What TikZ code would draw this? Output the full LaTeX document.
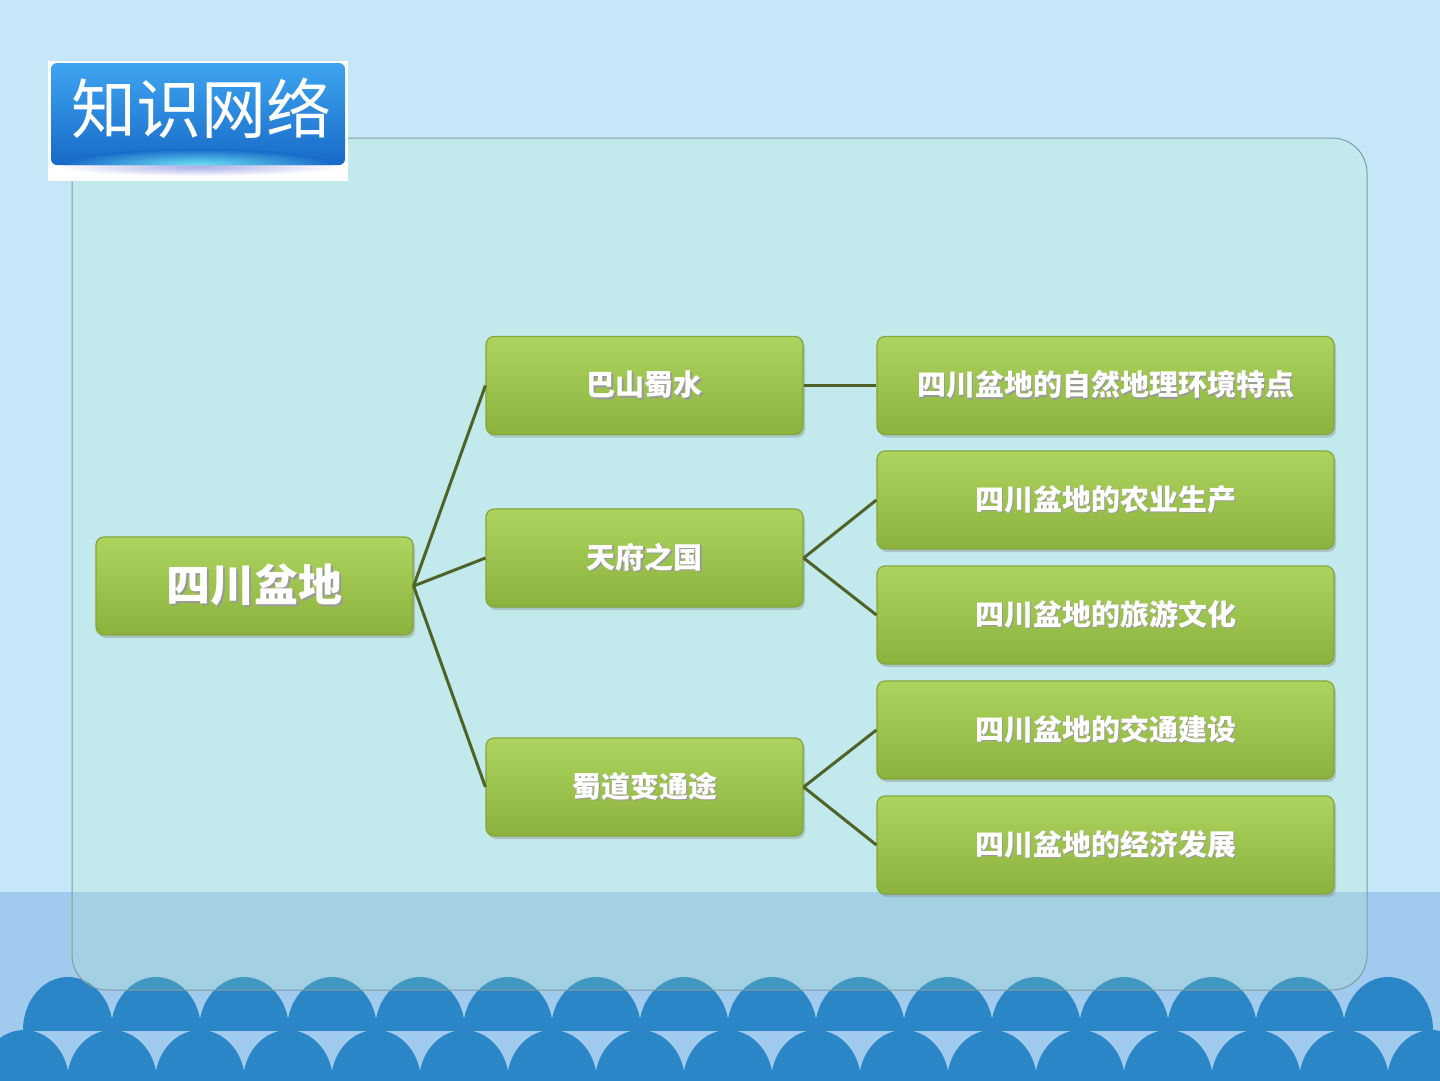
\documentclass[tikz,border=0pt]{standalone}
\usepackage{fontspec}
\newfontfamily\cjk{Noto Sans CJK SC}
\usetikzlibrary{shadows}

\definecolor{skybg}{RGB}{198,231,248}
\definecolor{bandbg}{RGB}{160,202,238}
\definecolor{wave}{RGB}{43,134,200}
\definecolor{panelfill}{RGB}{180,243,175}
\definecolor{panelline}{RGB}{130,155,165}
\definecolor{leaftop}{RGB}{174,212,96}
\definecolor{leafbot}{RGB}{140,178,62}
\definecolor{leafline}{RGB}{132,166,60}
\definecolor{branch}{RGB}{79,98,40}
\definecolor{badgetop}{RGB}{62,165,240}
\definecolor{badgebot}{RGB}{24,106,200}
\definecolor{badgeglow}{RGB}{110,225,245}
\definecolor{badgeshade}{RGB}{170,175,230}

\newcommand{\shtext}[1]{\makebox[0pt][l]{\hspace{1.5pt}\raisebox{-1.5pt}{\textcolor{black!40}{#1}}}#1}

\tikzset{
  box/.style={rectangle, rounded corners=8pt, top color=leaftop, bottom color=leafbot,
    draw=leafline, line width=1.2pt, text=white, inner sep=0pt, minimum height=98pt,
    drop shadow={shadow xshift=2pt, shadow yshift=-3pt, opacity=0.35}},
  rootbox/.style={box, minimum width=317pt, font={\cjk\bfseries\fontsize{44}{44}\selectfont}},
  midbox/.style={box, minimum width=317pt, font={\cjk\bfseries\fontsize{29}{29}\selectfont}},
  leafbox/.style={box, minimum width=457pt, font={\cjk\bfseries\fontsize{29}{29}\selectfont}},
  link/.style={draw=branch, line width=3pt},
}

\begin{document}
\begin{tikzpicture}[x=1pt, y=-1pt]
  \useasboundingbox (0,0) rectangle (1440,1080);
  \clip (0,0) rectangle (1440,1080);
  \fill[skybg] (0,0) rectangle (1440,1080);
  \fill[bandbg] (0,892) rectangle (1440,1080);

  % waves
  \begin{scope}
    \clip (0,0) rectangle (1440,1030);
    \foreach \i in {0,...,15}
      \fill[wave] (68+88*\i,1030) ellipse [x radius=45pt, y radius=53pt];
  \end{scope}
  \foreach \i in {0,...,16}
    \fill[wave] (24+88*\i,1082) ellipse [x radius=45pt, y radius=52pt];

  % panel
  \draw[panelline, line width=1pt, fill=panelfill, fill opacity=0.17, rounded corners=35pt]
    (72,138) rectangle (1367,990);

  % title badge
  \fill[white] (48,61) rectangle (348,181);
  \shade[inner color=badgeshade, outer color=white] (198,167) ellipse [x radius=140pt, y radius=9pt];
  \shade[top color=badgetop, bottom color=badgebot, rounded corners=6pt] (51,63) rectangle (345,165);
  \begin{scope}
    \clip[rounded corners=6pt] (51,63) rectangle (345,165);
    \shade[inner color=badgeglow, outer color=badgebot] (198,165) ellipse [x radius=135pt, y radius=16pt];
  \end{scope}
  \node[font={\cjk\fontsize{65}{65}\selectfont}, text=white] (title) at (201,108) {知识网络};

  \node[rootbox] (root) at (254.5,586) {\shtext{四川盆地}};

  \node[midbox] (bashan) at (644.5,385.5) {\shtext{巴山蜀水}};
  \node[midbox] (tianfu) at (644.5,558) {\shtext{天府之国}};
  \node[midbox] (shudao) at (644.5,787) {\shtext{蜀道变通途}};

  \node[leafbox] (ziran) at (1105.5,385.5) {\shtext{四川盆地的自然地理环境特点}};
  \node[leafbox] (nongye) at (1105.5,500) {\shtext{四川盆地的农业生产}};
  \node[leafbox] (lvyou) at (1105.5,615) {\shtext{四川盆地的旅游文化}};
  \node[leafbox] (jiaotong) at (1105.5,730) {\shtext{四川盆地的交通建设}};
  \node[leafbox] (jingji) at (1105.5,845) {\shtext{四川盆地的经济发展}};

  \draw[link] (root.east) -- (bashan.west);
  \draw[link] (root.east) -- (tianfu.west);
  \draw[link] (root.east) -- (shudao.west);
  \draw[link] (bashan.east) -- (ziran.west);
  \draw[link] (tianfu.east) -- (nongye.west);
  \draw[link] (tianfu.east) -- (lvyou.west);
  \draw[link] (shudao.east) -- (jiaotong.west);
  \draw[link] (shudao.east) -- (jingji.west);
\end{tikzpicture}
\end{document}
